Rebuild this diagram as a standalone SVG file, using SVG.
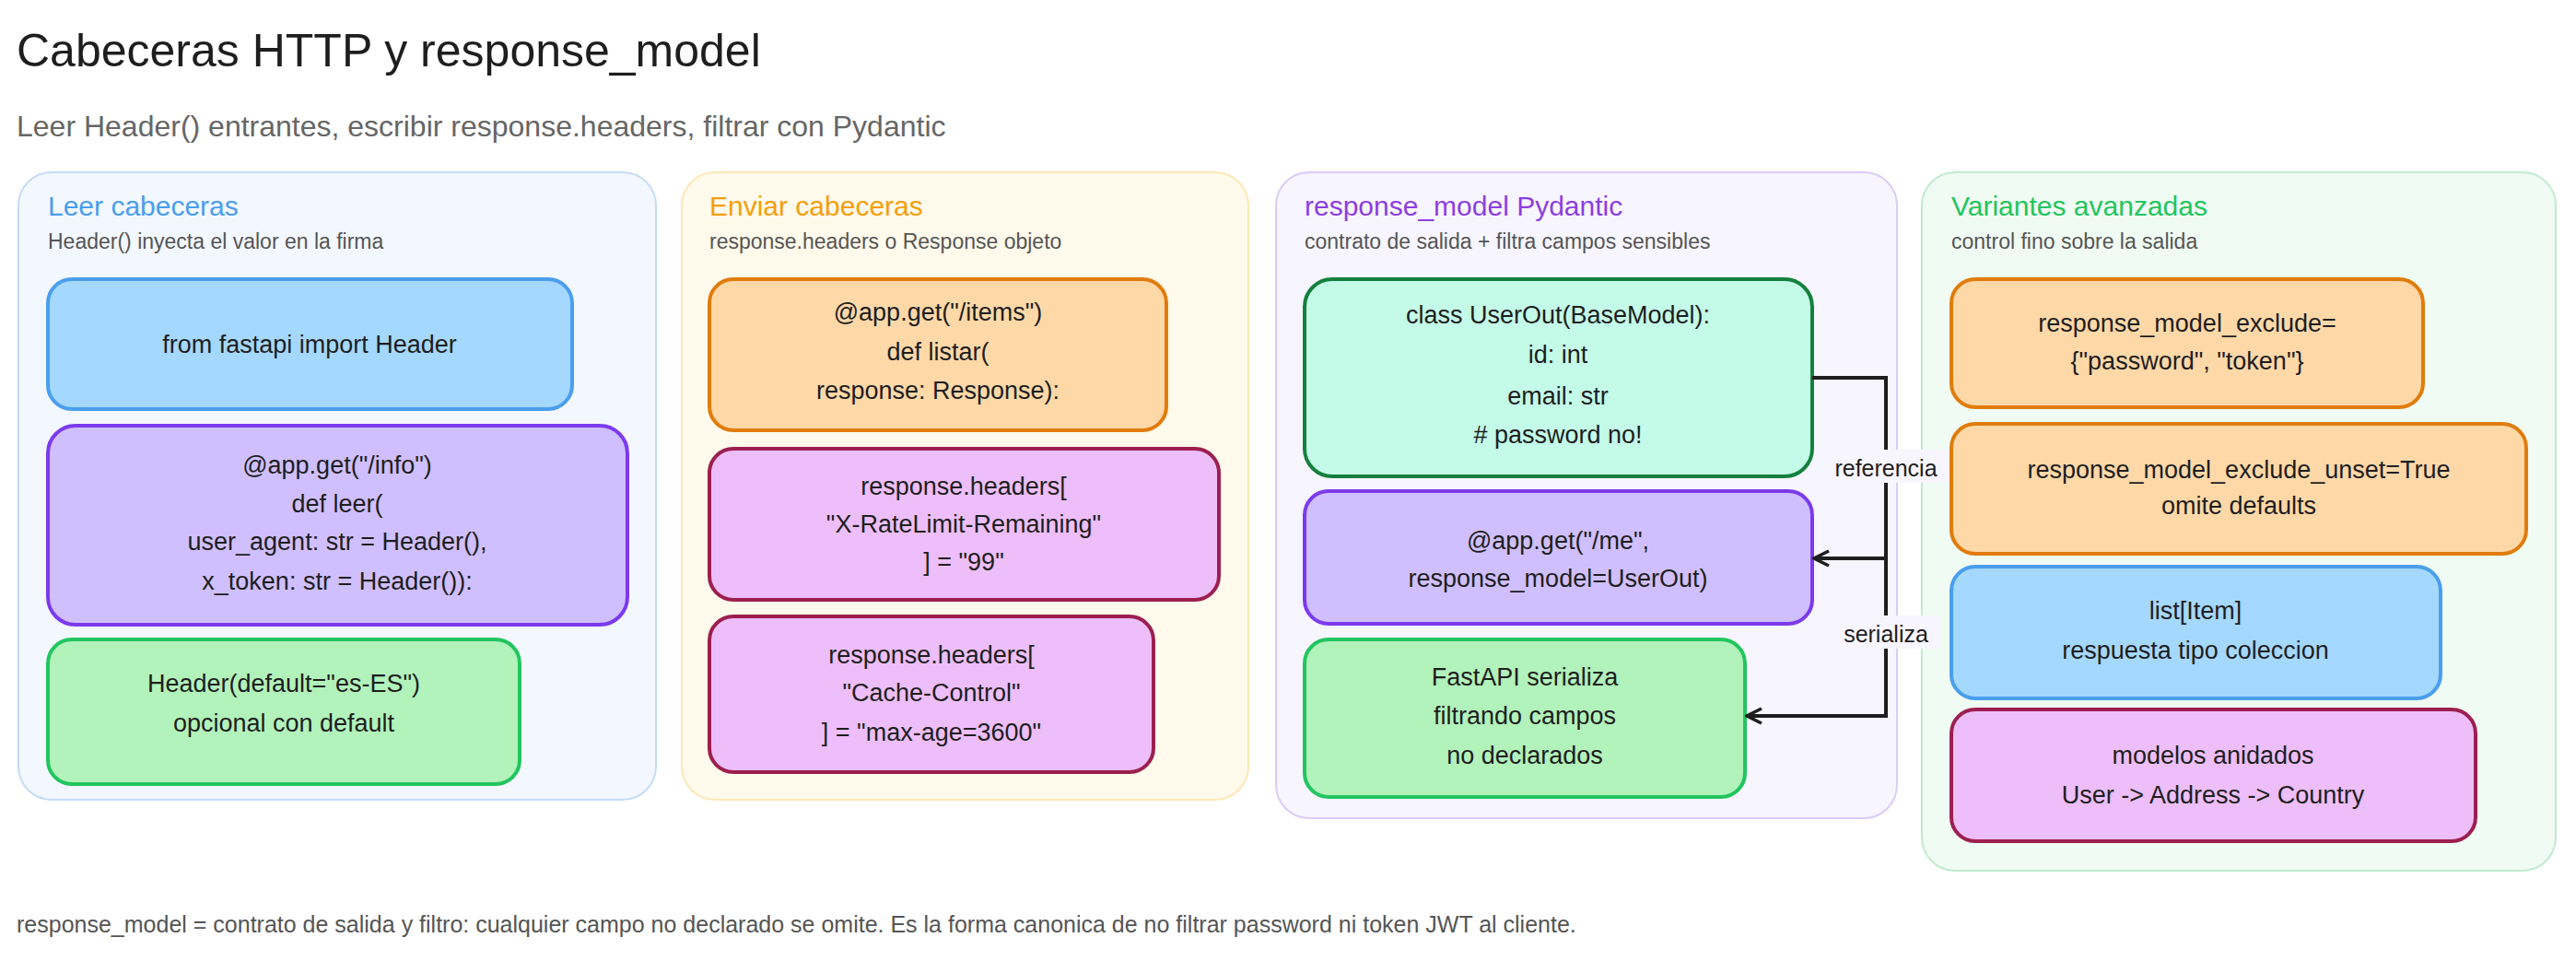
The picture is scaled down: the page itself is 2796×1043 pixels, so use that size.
<svg xmlns="http://www.w3.org/2000/svg" width="2796" height="1043" viewBox="0 0 2796 1043">
<defs>
<style>
text{font-family:"Liberation Sans",Arial,sans-serif;fill:#1e1e1e}
.t{font-size:27px;text-anchor:middle}
.pt{font-size:30px}
.ps{font-size:23px;fill:#555}
.n{stroke-width:4}
.p{stroke-width:2}
</style>
<marker id="ah" viewBox="0 0 20 20" refX="18" refY="10" markerWidth="20" markerHeight="20" markerUnits="userSpaceOnUse" orient="auto"><path d="M2 2 L18 10 L2 18" fill="none" stroke="#1e1e1e" stroke-width="3.5"/></marker>
</defs>
<rect width="2796" height="1043" fill="#fff"/>
<text x="18" y="72" font-size="50">Cabeceras HTTP y response_model</text>
<text x="18" y="148" font-size="32" fill="#666" style="fill:#666">Leer Header() entrantes, escribir response.headers, filtrar con Pydantic</text>

<g id="panel1"><rect class="p" x="20" y="187" width="692" height="681" rx="36" fill="#f3f7ff" stroke="#c5dcf5"/>
<text class="pt" x="52" y="234" style="fill:#4a9eed">Leer cabeceras</text><text class="ps" x="52" y="270">Header() inyecta el valor en la firma</text></g>
<g id="panel2"><rect class="p" x="740" y="187" width="615" height="681" rx="36" fill="#fffaeb" stroke="#fde8b5"/>
<text class="pt" x="770" y="234" style="fill:#f59e0b">Enviar cabeceras</text><text class="ps" x="770" y="270">response.headers o Response objeto</text></g>
<g id="panel3"><rect class="p" x="1385" y="187" width="674" height="701" rx="36" fill="#f7f5ff" stroke="#d9ccf7"/>
<text class="pt" x="1416" y="234" style="fill:#8b3fe0">response_model Pydantic</text><text class="ps" x="1416" y="270">contrato de salida + filtra campos sensibles</text></g>
<g id="panel4"><rect class="p" x="2086" y="187" width="688" height="758" rx="36" fill="#f0fbf3" stroke="#c0ebcf"/>
<text class="pt" x="2118" y="234" style="fill:#22c55e">Variantes avanzadas</text><text class="ps" x="2118" y="270">control fino sobre la salida</text></g>

<g id="A"><rect class="n" x="52" y="303" width="569" height="141" rx="26" fill="#a5d8ff" stroke="#4a9eed"/><text class="t" x="336" y="383">from fastapi import Header</text></g>
<g id="B"><rect class="n" x="52" y="462" width="629" height="216" rx="30" fill="#d0bfff" stroke="#7c3aed"/><text class="t" x="366" y="514">@app.get("/info")</text><text class="t" x="366" y="556">def leer(</text><text class="t" x="366" y="597">user_agent: str = Header(),</text><text class="t" x="366" y="640">x_token: str = Header()):</text></g>
<g id="C"><rect class="n" x="52" y="694" width="512" height="157" rx="26" fill="#b2f2bb" stroke="#22c55e"/><text class="t" x="308" y="751">Header(default="es-ES")</text><text class="t" x="308" y="794">opcional con default</text></g>

<g id="D"><rect class="n" x="770" y="303" width="496" height="164" rx="26" fill="#ffd8a8" stroke="#e07c0c"/><text class="t" x="1018" y="348">@app.get("/items")</text><text class="t" x="1018" y="391">def listar(</text><text class="t" x="1018" y="433">response: Response):</text></g>
<g id="E"><rect class="n" x="770" y="487" width="553" height="164" rx="26" fill="#eebefa" stroke="#9c1f4f"/><text class="t" x="1046" y="537">response.headers[</text><text class="t" x="1046" y="578">"X-RateLimit-Remaining"</text><text class="t" x="1046" y="619">] = "99"</text></g>
<g id="F"><rect class="n" x="770" y="669" width="482" height="169" rx="26" fill="#eebefa" stroke="#9c1f4f"/><text class="t" x="1011" y="720">response.headers[</text><text class="t" x="1011" y="761">"Cache-Control"</text><text class="t" x="1011" y="804">] = "max-age=3600"</text></g>

<g id="G"><rect class="n" x="1416" y="303" width="551" height="214" rx="30" fill="#c3fae8" stroke="#15803d"/><text class="t" x="1691" y="351">class UserOut(BaseModel):</text><text class="t" x="1691" y="394">id: int</text><text class="t" x="1691" y="439">email: str</text><text class="t" x="1691" y="481">#  password no!</text></g>
<g id="H"><rect class="n" x="1416" y="533" width="551" height="144" rx="26" fill="#d0bfff" stroke="#7c3aed"/><text class="t" x="1691" y="596">@app.get("/me",</text><text class="t" x="1691" y="637">response_model=UserOut)</text></g>
<g id="I"><rect class="n" x="1416" y="694" width="478" height="171" rx="26" fill="#b2f2bb" stroke="#22c55e"/><text class="t" x="1655" y="744">FastAPI serializa</text><text class="t" x="1655" y="786">filtrando campos</text><text class="t" x="1655" y="829">no declarados</text></g>

<g id="J"><rect class="n" x="2118" y="303" width="512" height="139" rx="26" fill="#ffd8a8" stroke="#e07c0c"/><text class="t" x="2374" y="360">response_model_exclude=</text><text class="t" x="2374" y="401">{"password", "token"}</text></g>
<g id="K"><rect class="n" x="2118" y="460" width="624" height="141" rx="26" fill="#ffd8a8" stroke="#e07c0c"/><text class="t" x="2430" y="519">response_model_exclude_unset=True</text><text class="t" x="2430" y="558">omite defaults</text></g>
<g id="L"><rect class="n" x="2118" y="615" width="531" height="143" rx="26" fill="#a5d8ff" stroke="#4a9eed"/><text class="t" x="2383" y="672">list[Item]</text><text class="t" x="2383" y="715">respuesta tipo coleccion</text></g>
<g id="M"><rect class="n" x="2118" y="770" width="569" height="143" rx="26" fill="#eebefa" stroke="#9c1f4f"/><text class="t" x="2402" y="829">modelos anidados</text><text class="t" x="2402" y="872">User -&gt; Address -&gt; Country</text></g>

<g id="connectors" fill="none" stroke="#1e1e1e" stroke-width="4">
<path d="M1967 410 H2047 V606 H1969" marker-end="url(#ah)"/>
<path d="M2047 606 V777 H1896" marker-end="url(#ah)"/>
<rect x="1978" y="488" width="138" height="36" fill="#f7f5ff" stroke="none"/>
<rect x="1988" y="668" width="118" height="36" fill="#f7f5ff" stroke="none"/>
</g>
<text class="t" x="2047" y="517" style="font-size:25px">referencia</text>
<text class="t" x="2047" y="697" style="font-size:25px">serializa</text>

<text x="18" y="1012" font-size="25" style="fill:#555">response_model = contrato de salida y filtro: cualquier campo no declarado se omite. Es la forma canonica de no filtrar password ni token JWT al cliente.</text>
</svg>
